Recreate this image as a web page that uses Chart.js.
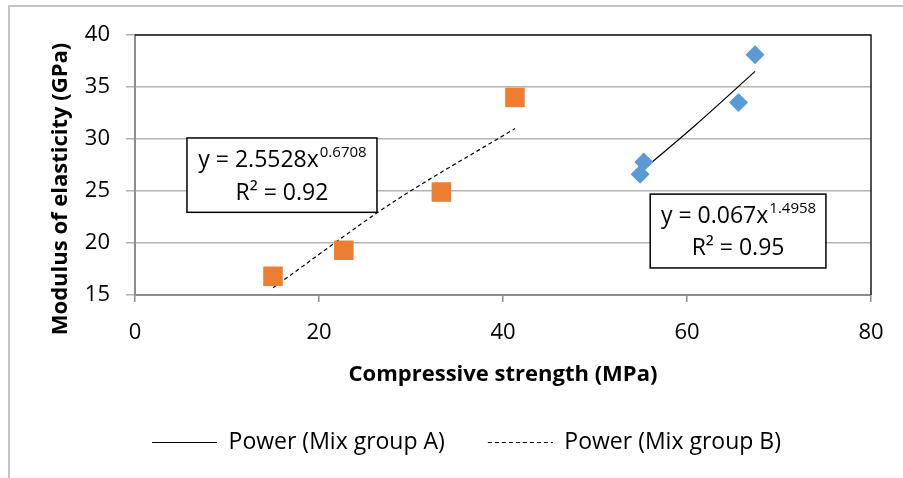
<!DOCTYPE html>
<html>
<head>
<meta charset="utf-8">
<script src="https://cdn.jsdelivr.net/npm/chart.js@4"></script>
<style>
  body { margin: 0; background: #fff; }
  #wrap { position: relative; width: 903px; height: 478px; overflow: hidden; }
  #frame { position: absolute; left: 8px; top: 5px; width: 1000px; height: 1000px; border: 2px solid #c4c4c4; }
  canvas { position: absolute; left: 0; top: 0; }
</style>
</head>
<body>
<div id="wrap">
  <div id="frame"></div>
  <canvas id="chartModulus" width="903" height="478"></canvas>
</div>
<script>
// measured points
const mixA_x = [54.9, 55.3, 65.6, 67.4];
const mixA_y = [26.6, 27.8, 33.5, 38.1];
const mixB_x = [15.0, 22.7, 33.3, 41.3];
const mixB_y = [16.8, 19.3, 24.9, 34.0];

// power trendlines as they appear on the picture
const trendA_x = [54.9, 61.0, 67.4];
const trendA_y = [26.8, 31.4, 36.5];
const trendB_x = [15.0, 28.0, 41.3];
const trendB_y = [15.7, 23.9, 31.0];

const xTicks = [0, 20, 40, 60, 80];
const yTicks = [15, 20, 25, 30, 35, 40];

const eqA = { main: 'y = 0.067x', sup: '1.4958', r2: 'R² = 0.95' };
const eqB = { main: 'y = 2.5528x', sup: '0.6708', r2: 'R² = 0.92' };
const yTitle = 'Modulus of elasticity (GPa)';

const toPoints = (xs, ys) => xs.map((x, i) => ({ x: x, y: ys[i] }));

const FONT = '"Open Sans", Lato, sans-serif';

const eqBoxes = {
    id: 'eqBoxes',
    afterDatasetsDraw(chart) {
        const ctx = chart.ctx;
        const xs = chart.scales.x, ys = chart.scales.y;
        const area = chart.chartArea;

        // plot area border (top + right are black)
        ctx.save();
        ctx.strokeStyle = '#1a1a1a';
        ctx.lineWidth = 1.5;
        ctx.beginPath();
        ctx.moveTo(area.left, area.top);
        ctx.lineTo(area.right, area.top);
        ctx.lineTo(area.right, area.bottom);
        ctx.stroke();
        ctx.restore();

        // y axis title, sits a bit lower than the axis middle like the original
        ctx.save();
        ctx.translate(61, area.top + (area.bottom - area.top) / 2 + 24);
        ctx.rotate(-Math.PI / 2);
        ctx.font = 'bold 22px ' + FONT;
        ctx.fillStyle = '#000';
        ctx.textAlign = 'center';
        ctx.textBaseline = 'middle';
        ctx.fillText(yTitle, 0, 0);
        ctx.restore();

        const boxes = [
            { eq: eqB, x0: 5.65, x1: 26.3, y0: 30.1, y1: 22.95 },
            { eq: eqA, x0: 56.0, x1: 75.1, y0: 24.7, y1: 17.6 }
        ];
        boxes.forEach(b => {
            const l = xs.getPixelForValue(b.x0), r = xs.getPixelForValue(b.x1);
            const t = ys.getPixelForValue(b.y0), btm = ys.getPixelForValue(b.y1);
            ctx.save();
            ctx.fillStyle = '#fff';
            ctx.fillRect(l, t, r - l, btm - t);
            ctx.strokeStyle = '#000';
            ctx.lineWidth = 1.5;
            ctx.strokeRect(l, t, r - l, btm - t);

            const cx = (l + r) / 2;
            const h = btm - t;
            ctx.fillStyle = '#000';
            ctx.textBaseline = 'middle';

            ctx.font = '23px ' + FONT;
            const wMain = ctx.measureText(b.eq.main).width;
            ctx.font = '15px ' + FONT;
            const wSup = ctx.measureText(b.eq.sup).width;
            const sx = cx - (wMain + wSup) / 2;
            const line1 = t + h * 0.3;
            ctx.textAlign = 'left';
            ctx.font = '23px ' + FONT;
            ctx.fillText(b.eq.main, sx, line1);
            ctx.font = '15px ' + FONT;
            ctx.fillText(b.eq.sup, sx + wMain + 1, line1 - 8);

            ctx.font = '23px ' + FONT;
            ctx.textAlign = 'center';
            ctx.fillText(b.eq.r2, cx, t + h * 0.74);
            ctx.restore();
        });
    }
};

const ctx = document.getElementById('chartModulus').getContext('2d');

const chartModulus = new Chart(ctx, {
    type: 'scatter',
    data: {
        datasets: [{
            label: 'Mix group A',
            data: toPoints(mixA_x, mixA_y),
            pointStyle: 'rectRot',
            pointRadius: 9.5,
            pointHoverRadius: 9.5,
            backgroundColor: '#5B9BD5',
            borderColor: '#5B9BD5',
            borderWidth: 0
        }, {
            label: 'Mix group B',
            data: toPoints(mixB_x, mixB_y),
            pointStyle: 'rect',
            pointRadius: 13.8,
            pointHoverRadius: 13.8,
            backgroundColor: '#ED7D31',
            borderColor: '#ED7D31',
            borderWidth: 0
        }, {
            label: 'Power (Mix group A)',
            data: toPoints(trendA_x, trendA_y),
            showLine: true,
            pointRadius: 0,
            borderColor: '#000',
            backgroundColor: 'rgba(0,0,0,0)',
            borderWidth: 1.2,
            tension: 0.3
        }, {
            label: 'Power (Mix group B)',
            data: toPoints(trendB_x, trendB_y),
            showLine: true,
            pointRadius: 0,
            borderColor: '#000',
            backgroundColor: 'rgba(0,0,0,0)',
            borderWidth: 1.2,
            borderDash: [4, 3],
            tension: 0.3
        }]
    },
    options: {
        responsive: false,
        animation: false,
        layout: { padding: { left: 30, right: 0, top: 35, bottom: 14 } },
        plugins: {
            tooltip: { enabled: false },
            legend: {
                position: 'bottom',
                labels: {
                    filter: item => item.text.startsWith('Power'),
                    boxWidth: 65,
                    boxHeight: 0,
                    padding: 43,
                    color: '#000',
                    font: { family: FONT, size: 23 }
                }
            }
        },
        scales: {
            x: {
                type: 'linear',
                min: 0,
                max: 80,
                afterBuildTicks: s => { s.ticks = xTicks.map(v => ({ value: v })); },
                afterFit: s => { s.height = 93; },
                border: { color: '#8c8c8c', width: 2 },
                grid: { drawOnChartArea: false, drawTicks: true, tickLength: 7, color: '#8c8c8c', lineWidth: 1.5 },
                ticks: { color: '#000', padding: 18, font: { family: FONT, size: 22 } },
                title: {
                    display: true,
                    text: 'Compressive strength (MPa)',
                    color: '#000',
                    padding: 0,
                    font: { family: FONT, size: 22, weight: 'bold' }
                }
            },
            y: {
                type: 'linear',
                min: 15,
                max: 40,
                afterBuildTicks: s => { s.ticks = yTicks.map(v => ({ value: v })); },
                afterFit: s => { s.width = 105; },
                border: { color: '#8c8c8c', width: 2 },
                grid: { color: '#b3b3b3', lineWidth: 1.5, tickLength: 9 },
                ticks: { color: '#000', padding: 16, font: { family: FONT, size: 22 } },
                title: { display: false }
            },
            yRight: {
                type: 'linear',
                position: 'right',
                min: 15,
                max: 40,
                afterFit: s => { s.width = 32; },
                border: { display: false },
                grid: { display: false },
                ticks: { display: false }
            }
        }
    },
    plugins: [eqBoxes]
});
</script>
</body>
</html>
